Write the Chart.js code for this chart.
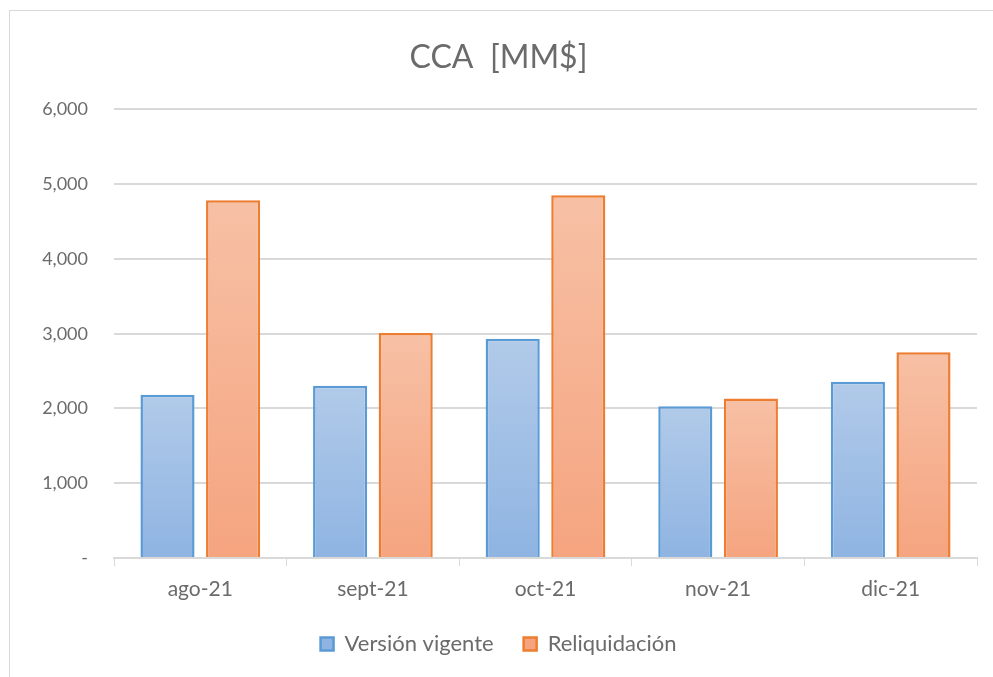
<!DOCTYPE html>
<html>
<head>
<meta charset="utf-8">
<script src="https://cdn.jsdelivr.net/npm/chart.js@4/dist/chart.umd.min.js"></script>
<style>
  html, body { margin: 0; padding: 0; background: #fff; }
  #wrap { position: absolute; left: 0; top: 0; width: 993px; height: 677px; }
  #frame { position: absolute; left: 9px; top: 10px; width: 1000px; height: 700px; border: 1px solid #d9d9d9; }
</style>
</head>
<body>
<div id="frame"></div>
<div id="wrap"><canvas id="chart" width="993" height="677"></canvas></div>
<script>
'use strict'

const months = ['ago-21', 'sept-21', 'oct-21', 'nov-21', 'dic-21']
const vigente = [2185, 2305, 2933, 2031, 2356] // Versión vigente
const reliquidacion = [4785, 3010, 4853, 2133, 2751] // Reliquidación
const yTicks = [0, 1000, 2000, 3000, 4000, 5000, 6000]

const FONT = 'Lato, "Open Sans", sans-serif'
const GREY = '#6b6b6b'

// gradient per bar, lighter at the top like the Excel fill
const barFill = (light, dark) => ctx => {
  const chart = ctx.chart
  if (!chart.chartArea || ctx.raw === undefined) return light
  const y = chart.scales.y
  const top = y.getPixelForValue(ctx.raw)
  const bottom = y.getPixelForValue(0)
  const g = chart.ctx.createLinearGradient(0, top, 0, bottom)
  g.addColorStop(0, light)
  g.addColorStop(1, dark)
  return g
}

const ctx = document.getElementById('chart')

const ccaChart = new Chart(ctx, {
  type: 'bar',
  data: {
    labels: months,
    datasets: [{
      label: 'Versión vigente',
      data: vigente,
      backgroundColor: barFill('#b1cae9', '#8fb4e2'),
      borderColor: '#5b9bd5',
      borderWidth: 2.5
    },
    {
      label: 'Reliquidación',
      data: reliquidacion,
      backgroundColor: barFill('#f7c0a5', '#f5a47f'),
      borderColor: '#ed7d31',
      borderWidth: 2.5
    }]
  },
  options: {
    responsive: false,
    animation: false,
    datasets: {
      bar: { categoryPercentage: 0.76, barPercentage: 0.825 }
    },
    layout: { padding: { left: 20, right: 16, top: 38, bottom: 12 } },
    plugins: {
      title: {
        display: true,
        text: 'CCA  [MM$]',
        color: GREY,
        font: { family: FONT, size: 32, weight: 'normal' },
        padding: { top: 0, bottom: 33 }
      },
      legend: {
        position: 'bottom',
        labels: {
          color: GREY,
          font: { family: FONT, size: 22 },
          boxWidth: 13,
          boxHeight: 13,
          padding: 30
        }
      },
      tooltip: { enabled: false }
    },
    scales: {
      x: {
        grid: {
          display: true,
          drawOnChartArea: false,
          drawTicks: true,
          tickLength: 8,
          color: '#d9d9d9',
          offset: true
        },
        border: { display: true, color: '#d9d9d9', width: 2 },
        ticks: {
          color: GREY,
          font: { family: FONT, size: 21 },
          padding: 11
        },
        afterFit: axis => { axis.height = 45 }
      },
      y: {
        min: 0,
        max: 6000,
        afterBuildTicks: axis => {
          axis.ticks = yTicks.map(v => ({ value: v }))
        },
        afterFit: axis => { axis.width = 94 },
        grid: { color: '#d9d9d9', lineWidth: 2, drawTicks: false },
        border: { display: false },
        ticks: {
          color: GREY,
          font: { family: FONT, size: 18 },
          padding: 26,
          callback: v => v === 0 ? '-' : v.toLocaleString('en-US')
        }
      }
    }
  }
})
</script>
</body>
</html>
